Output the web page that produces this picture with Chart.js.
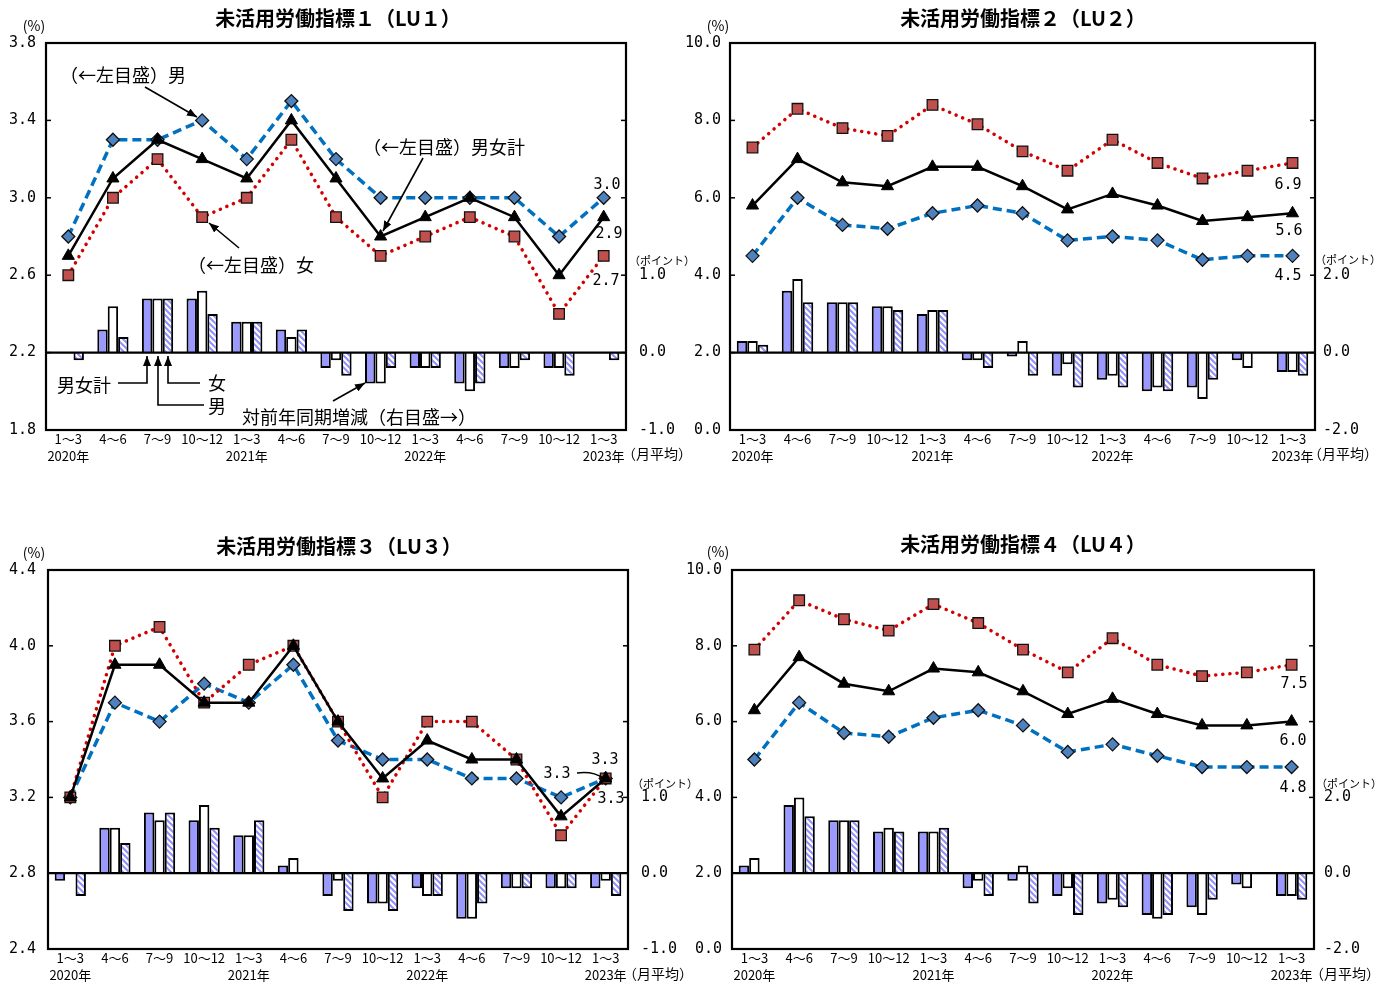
<!DOCTYPE html>
<html><head><meta charset="utf-8">
<script src="https://cdn.jsdelivr.net/npm/chart.js@4.4.1/dist/chart.umd.min.js"></script>
<style>
html,body{margin:0;padding:0;background:#fff;}
body{width:1398px;height:983px;position:relative;overflow:hidden;font-family:"Noto Sans CJK JP","Noto Sans",sans-serif;color:#000;}
canvas{position:absolute;}
.t{position:absolute;white-space:nowrap;line-height:1;}
.c{transform:translate(-50%,-50%);}
.l{transform:translateY(-50%);}
.num{font-family:"DejaVu Sans Mono",monospace;font-size:15px;}
.ttl{font-weight:bold;font-size:20px;}
.ann{font-size:18px;}
.pt{font-size:11px;}
.pc{font-size:14px;}
.mo{font-size:14px;}
</style></head><body>
<canvas id="c1" width="699" height="480" style="left:0;top:0"></canvas>
<canvas id="c2" width="738" height="480" style="left:660px;top:0"></canvas>
<canvas id="c3" width="699" height="468" style="left:0;top:515px"></canvas>
<canvas id="c4" width="738" height="468" style="left:660px;top:515px"></canvas>

<svg width="1398" height="983" style="position:absolute;left:0;top:0;pointer-events:none">
<defs><marker id="ah" viewBox="0 0 10 8" refX="10" refY="4" markerWidth="10" markerHeight="8" orient="auto" markerUnits="userSpaceOnUse"><path d="M0,0 L10,4 L0,8 z" fill="#000"/></marker></defs>
<line x1="145" y1="87" x2="197" y2="117" stroke="#000" stroke-width="1.6" marker-end="url(#ah)"/>
<line x1="423" y1="158" x2="383" y2="231" stroke="#000" stroke-width="1.6" marker-end="url(#ah)"/>
<line x1="239" y1="248" x2="209" y2="223" stroke="#000" stroke-width="1.6" marker-end="url(#ah)"/>
<line x1="333" y1="401" x2="365" y2="383" stroke="#000" stroke-width="1.6" marker-end="url(#ah)"/>
<polyline points="118,383 147,383 147,356" fill="none" stroke="#000" stroke-width="1.6" marker-end="url(#ah)"/>
<polyline points="204,405 158,405 158,356" fill="none" stroke="#000" stroke-width="1.6" marker-end="url(#ah)"/>
<polyline points="200,383 168,383 168,356" fill="none" stroke="#000" stroke-width="1.6" marker-end="url(#ah)"/>
<path d="M577,773 Q593,771 603,778" fill="none" stroke="#000" stroke-width="1.6"/>
</svg>

<!-- panel 1 texts -->
<div class="t c ttl" style="left:338px;top:18px">未活用労働指標１（LU１）</div>
<div class="t c pc" style="left:34px;top:25px">(%)</div>
<div class="t c pt" style="left:662px;top:260px">（ポイント）</div>
<div class="t l mo" style="left:622px;top:453px">（月平均）</div>
<div class="t c num" style="left:607px;top:184px">3.0</div>
<div class="t c num" style="left:609px;top:233px">2.9</div>
<div class="t c num" style="left:606px;top:280px">2.7</div>
<div class="t l ann" style="left:60px;top:74px">（←左目盛）男</div>
<div class="t l ann" style="left:363px;top:146px">（←左目盛）男女計</div>
<div class="t l ann" style="left:188px;top:264px">（←左目盛）女</div>
<div class="t l ann" style="left:57px;top:384px">男女計</div>
<div class="t l ann" style="left:208px;top:382px">女</div>
<div class="t l ann" style="left:208px;top:405px">男</div>
<div class="t l ann" style="left:242px;top:416px">対前年同期増減（右目盛→）</div>

<!-- panel 2 texts -->
<div class="t c ttl" style="left:1023px;top:18px">未活用労働指標２（LU２）</div>
<div class="t c pc" style="left:718px;top:25px">(%)</div>
<div class="t c pt" style="left:1348px;top:259px">（ポイント）</div>
<div class="t l mo" style="left:1308px;top:453px">（月平均）</div>
<div class="t c num" style="left:1288px;top:184px">6.9</div>
<div class="t c num" style="left:1289px;top:230px">5.6</div>
<div class="t c num" style="left:1288px;top:275px">4.5</div>

<!-- panel 3 texts -->
<div class="t c ttl" style="left:339px;top:546px">未活用労働指標３（LU３）</div>
<div class="t c pc" style="left:34px;top:552px">(%)</div>
<div class="t c pt" style="left:665px;top:783px">（ポイント）</div>
<div class="t l mo" style="left:623px;top:973px">（月平均）</div>
<div class="t c num" style="left:605px;top:759px">3.3</div>
<div class="t c num" style="left:557px;top:773px">3.3</div>
<div class="t c num" style="left:611px;top:798px">3.3</div>

<!-- panel 4 texts -->
<div class="t c ttl" style="left:1023px;top:544px">未活用労働指標４（LU４）</div>
<div class="t c pc" style="left:718px;top:551px">(%)</div>
<div class="t c pt" style="left:1349px;top:783px">（ポイント）</div>
<div class="t l mo" style="left:1310px;top:973px">（月平均）</div>
<div class="t c num" style="left:1294px;top:683px">7.5</div>
<div class="t c num" style="left:1293px;top:740px">6.0</div>
<div class="t c num" style="left:1293px;top:787px">4.8</div>

<script>
// ---- categories ----
const quarters = ["1～3","4～6","7～9","10～12","1～3","4～6","7～9","10～12","1～3","4～6","7～9","10～12","1～3"];
const years = ["2020年","","","","2021年","","","","2022年","","","","2023年"];

// ---- LU1 ----
const lu1Total  = [2.7,3.1,3.3,3.2,3.1,3.4,3.1,2.8,2.9,3.0,2.9,2.6,2.9];
const lu1Male   = [2.8,3.3,3.3,3.4,3.2,3.5,3.2,3.0,3.0,3.0,3.0,2.8,3.0];
const lu1Female = [2.6,3.0,3.2,2.9,3.0,3.3,2.9,2.7,2.8,2.9,2.8,2.4,2.7];
const lu1TotalChg  = [0.0,0.3,0.7,0.7,0.4,0.3,-0.2,-0.4,-0.2,-0.4,-0.2,-0.2,0.0];
const lu1MaleChg   = [0.0,0.6,0.7,0.8,0.4,0.2,-0.1,-0.4,-0.2,-0.5,-0.2,-0.2,0.0];
const lu1FemaleChg = [-0.1,0.2,0.7,0.5,0.4,0.3,-0.3,-0.2,-0.2,-0.4,-0.1,-0.3,-0.1];

// ---- LU2 ----
const lu2Total  = [5.8,7.0,6.4,6.3,6.8,6.8,6.3,5.7,6.1,5.8,5.4,5.5,5.6];
const lu2Male   = [4.5,6.0,5.3,5.2,5.6,5.8,5.6,4.9,5.0,4.9,4.4,4.5,4.5];
const lu2Female = [7.3,8.3,7.8,7.6,8.4,7.9,7.2,6.7,7.5,6.9,6.5,6.7,6.9];
const lu2TotalChg  = [0.3,1.6,1.3,1.2,1.0,-0.2,-0.1,-0.6,-0.7,-1.0,-0.9,-0.2,-0.5];
const lu2MaleChg   = [0.3,1.9,1.3,1.2,1.1,-0.2,0.3,-0.3,-0.6,-0.9,-1.2,-0.4,-0.5];
const lu2FemaleChg = [0.2,1.3,1.3,1.1,1.1,-0.4,-0.6,-0.9,-0.9,-1.0,-0.7,0.0,-0.6];

// ---- LU3 ----
const lu3Total  = [3.2,3.9,3.9,3.7,3.7,4.0,3.6,3.3,3.5,3.4,3.4,3.1,3.3];
const lu3Male   = [3.2,3.7,3.6,3.8,3.7,3.9,3.5,3.4,3.4,3.3,3.3,3.2,3.3];
const lu3Female = [3.2,4.0,4.1,3.7,3.9,4.0,3.6,3.2,3.6,3.6,3.4,3.0,3.3];
const lu3TotalChg  = [-0.1,0.6,0.8,0.7,0.5,0.1,-0.3,-0.4,-0.2,-0.6,-0.2,-0.2,-0.2];
const lu3MaleChg   = [0.0,0.6,0.7,0.9,0.5,0.2,-0.1,-0.4,-0.3,-0.6,-0.2,-0.2,-0.1];
const lu3FemaleChg = [-0.3,0.4,0.8,0.6,0.7,0.0,-0.5,-0.5,-0.3,-0.4,-0.2,-0.2,-0.3];

// ---- LU4 ----
const lu4Total  = [6.3,7.7,7.0,6.8,7.4,7.3,6.8,6.2,6.6,6.2,5.9,5.9,6.0];
const lu4Male   = [5.0,6.5,5.7,5.6,6.1,6.3,5.9,5.2,5.4,5.1,4.8,4.8,4.8];
const lu4Female = [7.9,9.2,8.7,8.4,9.1,8.6,7.9,7.3,8.2,7.5,7.2,7.3,7.5];
const lu4TotalChg  = [0.2,1.8,1.4,1.1,1.1,-0.4,-0.2,-0.6,-0.8,-1.1,-0.9,-0.3,-0.6];
const lu4MaleChg   = [0.4,2.0,1.4,1.2,1.1,-0.2,0.2,-0.4,-0.7,-1.2,-1.1,-0.4,-0.6];
const lu4FemaleChg = [0.0,1.5,1.4,1.1,1.2,-0.6,-0.8,-1.1,-0.9,-1.1,-0.7,0.0,-0.7];

// ---- axis ranges [min, max, step] and labelled max of right axis ----
const lu1Left = [1.8, 3.8, 0.4], lu1Right = [-1, 4, 1], lu1RightLabelMax = 1;
const lu2Left = [0, 10, 2],      lu2Right = [-2, 8, 2], lu2RightLabelMax = 2;
const lu3Left = [2.4, 4.4, 0.4], lu3Right = [-1, 4, 1], lu3RightLabelMax = 1;
const lu4Left = [0, 10, 2],      lu4Right = [-2, 8, 2], lu4RightLabelMax = 2;

function hatch(){
  const c = document.createElement('canvas'); c.width = 6; c.height = 6;
  const g = c.getContext('2d');
  g.fillStyle = '#fff'; g.fillRect(0,0,6,6);
  g.strokeStyle = '#8f8fff'; g.lineWidth = 2;
  g.beginPath();
  g.moveTo(-1,-1); g.lineTo(7,7);
  g.moveTo(-1,5); g.lineTo(1,7);
  g.moveTo(5,-1); g.lineTo(7,1);
  g.stroke();
  return g.createPattern(c,'repeat');
}

const framePlugin = {
  id: 'frame',
  afterDatasetDraw(chart, args){
    if (args.meta.type === 'bar' && args.meta._dataset.isLastBar){
      const {ctx, chartArea:a} = chart;
      const p = chart.scales.y1.getPixelForValue(0);
      ctx.save(); ctx.strokeStyle = '#000'; ctx.lineWidth = 2.2;
      ctx.beginPath(); ctx.moveTo(a.left, p); ctx.lineTo(a.right, p); ctx.stroke();
      ctx.restore();
    }
  },
  afterDraw(chart){
    const {ctx, chartArea:a} = chart;
    const y = chart.scales.y, y1 = chart.scales.y1;
    ctx.save();
    ctx.strokeStyle = '#000';
    ctx.lineWidth = 1.5;
    y.ticks.forEach(t => { const p = y.getPixelForValue(t.value); ctx.beginPath(); ctx.moveTo(a.left, p); ctx.lineTo(a.left+5, p); ctx.stroke(); });
    y1.ticks.forEach(t => { const p = y1.getPixelForValue(t.value); ctx.beginPath(); ctx.moveTo(a.right-5, p); ctx.lineTo(a.right, p); ctx.stroke(); });
    ctx.lineWidth = 2.2;
    ctx.strokeRect(a.left, a.top, a.right - a.left, a.bottom - a.top);
    ctx.restore();
  }
};

const pattern = hatch();

function makeChart(id, box, lines, bars, left, right, rightMax, pads){
  const [L, T, R, B] = box;
  const labels = quarters.map((q, i) => [q, years[i]]);
  new Chart(document.getElementById(id), {
    data: {
      labels,
      datasets: [
        {type:'bar', label:'男女計（対前年同期増減）', data:bars[0], yAxisID:'y1', backgroundColor:'#9999ff', borderColor:'#000', borderWidth:2, order:10, categoryPercentage:0.7, barPercentage:1, isLastBar:true},
        {type:'bar', label:'男（対前年同期増減）', data:bars[1], yAxisID:'y1', backgroundColor:'#ffffff', borderColor:'#000', borderWidth:2, order:11, categoryPercentage:0.7, barPercentage:1},
        {type:'bar', label:'女（対前年同期増減）', data:bars[2], yAxisID:'y1', backgroundColor:pattern, borderColor:'#000', borderWidth:2, order:12, categoryPercentage:0.7, barPercentage:1},
        {type:'line', label:'男', data:lines[1], yAxisID:'y', borderColor:'#0070c0', borderWidth:3.5, borderDash:[9,5], tension:0,
          pointStyle:'rectRot', pointRadius:6.5, pointBackgroundColor:'#4f81bd', pointBorderColor:'#111', pointBorderWidth:1.3, order:3},
        {type:'line', label:'女', data:lines[2], yAxisID:'y', borderColor:'#d40000', borderWidth:3.5, borderDash:[0.1,7], borderCapStyle:'round', tension:0,
          pointStyle:'rect', pointRadius:7.5, pointBackgroundColor:'#c0504d', pointBorderColor:'#111', pointBorderWidth:1.3, order:2},
        {type:'line', label:'男女計', data:lines[0], yAxisID:'y', borderColor:'#000', borderWidth:2.5, tension:0,
          pointStyle:'triangle', pointRadius:7, pointBackgroundColor:'#000', pointBorderColor:'#000', pointBorderWidth:1, order:1}
      ]
    },
    options: {
      responsive:false, animation:false,
      layout:{padding:{top:T, left:0, right:0, bottom:0}},
      plugins:{legend:{display:false}, tooltip:{enabled:false}, title:{display:false}},
      scales:{
        x:{type:'category', offset:true, grid:{display:false, drawTicks:false}, border:{display:false},
           ticks:{autoSkip:false, maxRotation:0, minRotation:0, padding:0, color:'#000',
                  font:{family:'"Noto Sans CJK JP"', size:13, lineHeight:1.35}},
           afterFit(s){ s.height = B; }},
        y:{type:'linear', position:'left', min:left[0], max:left[1], grid:{display:false, drawTicks:false}, border:{display:false},
           ticks:{stepSize:left[2], padding:pads[0], color:'#000', font:{family:'"DejaVu Sans Mono"', size:15},
                  callback:v => Number(v).toFixed(1)},
           afterFit(s){ s.width = L; }},
        y1:{type:'linear', position:'right', min:right[0], max:right[1], grid:{display:false, drawTicks:false}, border:{display:false},
           ticks:{stepSize:right[2], padding:pads[1], color:'#000', font:{family:'"DejaVu Sans Mono"', size:15},
                  callback:v => (v <= rightMax + 1e-9 ? Number(v).toFixed(1) : '')},
           afterFit(s){ s.width = R; }}
      }
    },
    plugins:[framePlugin]
  });
}

makeChart('c1', [46, 43, 73, 50], [lu1Total, lu1Male, lu1Female], [lu1TotalChg, lu1MaleChg, lu1FemaleChg], lu1Left, lu1Right, lu1RightLabelMax, [10, 13]);
makeChart('c2', [70, 43, 83, 50], [lu2Total, lu2Male, lu2Female], [lu2TotalChg, lu2MaleChg, lu2FemaleChg], lu2Left, lu2Right, lu2RightLabelMax, [9, 8]);
makeChart('c3', [48, 55, 71, 34], [lu3Total, lu3Male, lu3Female], [lu3TotalChg, lu3MaleChg, lu3FemaleChg], lu3Left, lu3Right, lu3RightLabelMax, [12, 13]);
makeChart('c4', [72, 55, 84, 34], [lu4Total, lu4Male, lu4Female], [lu4TotalChg, lu4MaleChg, lu4FemaleChg], lu4Left, lu4Right, lu4RightLabelMax, [10, 10]);
</script>
</body></html>
